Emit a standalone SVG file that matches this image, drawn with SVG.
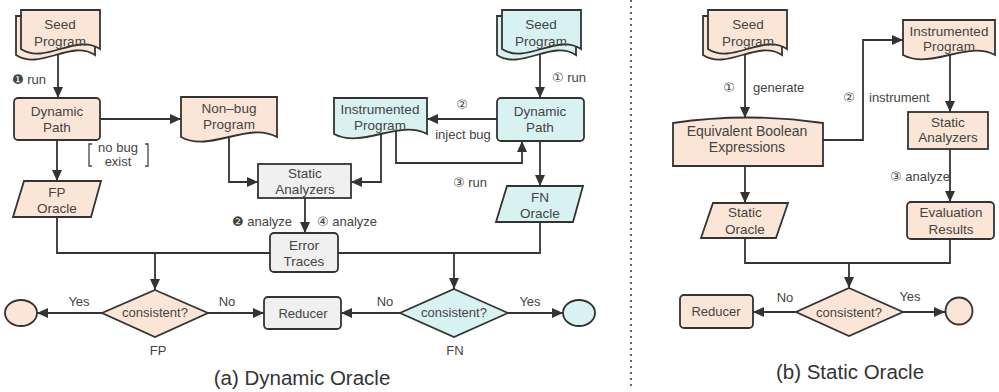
<svg xmlns="http://www.w3.org/2000/svg" width="999" height="392" viewBox="0 0 999 392">
<style>
.n{stroke:#333;stroke-width:1.8}
.p{fill:#FBE5D6}
.c{fill:#D8F2F2}
.g{fill:#F0F0F0}
.e{fill:none;stroke:#333;stroke-width:1.8}
.a{marker-end:url(#ah)}
text{font-family:"Liberation Sans",Arial,"DejaVu Sans","Noto Sans CJK SC",sans-serif;fill:#444;font-size:13.5px;text-anchor:middle}
.l{font-size:13px}
.s{text-anchor:start}
.t{font-size:20.5px;fill:#333}
</style>
<defs>
<marker id="ah" markerUnits="userSpaceOnUse" markerWidth="12" markerHeight="10" refX="11" refY="5" orient="auto">
<path d="M0,0 L11,5 L0,10 Z" fill="#333"/>
</marker>
</defs>

<g id="connectors">
<path class="e a" d="M58,55 V98"/>
<path class="e a" d="M100,119 H181"/>
<path class="e a" d="M57,140 V181"/>
<path class="e" d="M57,217 V253 H270"/>
<path class="e a" d="M155,253 V290"/>
<path class="e a" d="M102,313 H37"/>
<path class="e a" d="M208,313 H264"/>
<path class="e a" d="M229,137 V182 H258"/>
<path class="e a" d="M381,134 V182 H351"/>
<path class="e a" d="M396,131 V163 H522 V141"/>
<path class="e a" d="M305,198 V233"/>
<path class="e a" d="M497,119 H427"/>
<path class="e a" d="M540,55 V98"/>
<path class="e a" d="M540,141 V186"/>
<path class="e" d="M540,222 V253 H338"/>
<path class="e a" d="M454,253 V289"/>
<path class="e a" d="M400,313 H341"/>
<path class="e a" d="M508,313 H563"/>

<path class="e a" d="M745,55 V118"/>
<path class="e a" d="M823,140 H863 V40 H903"/>
<path class="e a" d="M950,55 V112"/>
<path class="e a" d="M950,149 V202"/>
<path class="e a" d="M745,166 V203"/>
<path class="e" d="M745,238 V263 H950 V239"/>
<path class="e a" d="M849,263 V288"/>
<path class="e a" d="M796,312 H753"/>
<path class="e a" d="M903,312 H945"/>
</g>

<g id="divider">
<line x1="631" y1="0" x2="631" y2="390" stroke="#666" stroke-width="2" stroke-dasharray="2 4"/>
</g>

<g id="labels">
<text class="l s" x="12" y="84">❶ run</text>
<text class="l s" x="232" y="226">❷ analyze</text>
<text class="l s" x="317" y="226">④ analyze</text>
<text class="l" x="462" y="109">②</text>
<text class="l" x="463" y="139">inject bug</text>
<text class="l s" x="552" y="82">① run</text>
<text class="l s" x="453" y="187">③ run</text>
<text class="l" x="79" y="306">Yes</text>
<text class="l" x="227" y="306">No</text>
<text class="l" x="158" y="355">FP</text>
<text class="l" x="385" y="306">No</text>
<text class="l" x="530" y="306">Yes</text>
<text class="l" x="455" y="355">FN</text>
<text class="l" x="729" y="92">①</text>
<text class="l s" x="753" y="92">generate</text>
<text class="l" x="849" y="102">②</text>
<text class="l s" x="869" y="102">instrument</text>
<text class="l s" x="890" y="181">③ analyze</text>
<text class="l" x="785" y="302">No</text>
<text class="l" x="910" y="301">Yes</text>
</g>

<g id="note-no-bug">
<path d="M92,144 H89 V166 H92 M145,144 H148 V166 H145" fill="none" stroke="#444" stroke-width="1.3"/>
<text class="l" x="118" y="152">no bug</text>
<text class="l" x="118" y="166">exist</text>
</g>

<g id="seed-a">
<path class="n p" d="M16,16 H95 V55 C71,39 40,71 16,55 Z"/>
<path class="n p" d="M21,10 H100 V49 C76,33 45,65 21,49 Z"/>
<text x="60" y="29">Seed</text>
<text x="60" y="46">Program</text>
</g>

<g id="dynamic-path-a">
<rect class="n p" x="14" y="98" width="86" height="42" rx="4"/>
<text x="57" y="116">Dynamic</text>
<text x="57" y="132">Path</text>
</g>

<g id="non-bug-program">
<path class="n p" d="M181,97 H277 V137 C248,121 210,153 181,137 Z"/>
<text x="229" y="113">Non–bug</text>
<text x="229" y="129">Program</text>
</g>

<g id="fp-oracle">
<polygon class="n p" points="24,181 101,181 91,217 13,217"/>
<text x="57" y="197">FP</text>
<text x="57" y="213">Oracle</text>
</g>

<g id="static-analyzers-a">
<rect class="n g" x="258" y="164" width="93" height="34"/>
<text x="305" y="178">Static</text>
<text x="305" y="194">Analyzers</text>
</g>

<g id="error-traces">
<rect class="n g" x="270" y="233" width="68" height="39" rx="4"/>
<text x="304" y="250">Error</text>
<text x="304" y="266">Traces</text>
</g>

<g id="fp-check">
<polygon class="n p" points="155,290 208,313 155,337 102,313"/>
<text class="l" x="155" y="317">consistent?</text>
</g>

<g id="fp-end">
<ellipse class="n p" cx="21" cy="313" rx="16" ry="13"/>
</g>

<g id="reducer-a">
<rect class="n g" x="264" y="297" width="77" height="32" rx="4"/>
<text class="l" x="303" y="318">Reducer</text>
</g>

<g id="instrumented-a">
<path class="n c" d="M334,98 H427 V134 C399,119 362,149 334,134 Z"/>
<text x="380" y="114">Instrumented</text>
<text x="380" y="130">Program</text>
</g>

<g id="seed-fn">
<path class="n c" d="M497,16 H576 V55 C552,39 521,71 497,55 Z"/>
<path class="n c" d="M502,10 H581 V49 C557,33 526,65 502,49 Z"/>
<text x="541" y="29">Seed</text>
<text x="541" y="46">Program</text>
</g>

<g id="dynamic-path-fn">
<rect class="n c" x="497" y="98" width="87" height="43" rx="4"/>
<text x="540" y="116">Dynamic</text>
<text x="540" y="132">Path</text>
</g>

<g id="fn-oracle">
<polygon class="n c" points="507,186 583,186 573,222 496,222"/>
<text x="540" y="202">FN</text>
<text x="540" y="218">Oracle</text>
</g>

<g id="fn-check">
<polygon class="n c" points="454,289 508,313 454,337 400,313"/>
<text class="l" x="454" y="317">consistent?</text>
</g>

<g id="fn-end">
<ellipse class="n c" cx="579" cy="313" rx="16" ry="13"/>
</g>

<g id="seed-b">
<path class="n p" d="M703,16 H782 V55 C758,39 727,71 703,55 Z"/>
<path class="n p" d="M708,10 H787 V49 C763,33 732,65 708,49 Z"/>
<text x="748" y="29">Seed</text>
<text x="748" y="46">Program</text>
</g>

<g id="equivalent-boolean">
<path class="n p" d="M673,123 Q748,112 823,123 V166 H673 Z"/>
<text x="747" y="136" style="font-size:14px">Equivalent Boolean</text>
<text x="747" y="152" style="font-size:14px">Expressions</text>
</g>

<g id="instrumented-b">
<path class="n p" d="M903,20 H995 V55 C967,40 931,70 903,55 Z"/>
<text x="949" y="36">Instrumented</text>
<text x="949" y="51">Program</text>
</g>

<g id="static-analyzers-b">
<rect class="n p" x="908" y="112" width="80" height="37"/>
<text x="948" y="127">Static</text>
<text x="948" y="142">Analyzers</text>
</g>

<g id="evaluation-results">
<rect class="n p" x="907" y="202" width="87" height="37" rx="4"/>
<text x="951" y="217">Evaluation</text>
<text x="951" y="234">Results</text>
</g>

<g id="static-oracle">
<polygon class="n p" points="713,203 788,203 776,238 701,238"/>
<text x="745" y="217">Static</text>
<text x="745" y="234">Oracle</text>
</g>

<g id="static-check">
<polygon class="n p" points="849,288 903,312 849,336 796,312"/>
<text class="l" x="849" y="317">consistent?</text>
</g>

<g id="reducer-b">
<rect class="n p" x="680" y="295" width="73" height="33" rx="4"/>
<text class="l" x="716" y="316">Reducer</text>
</g>

<g id="static-end">
<circle class="n p" cx="959" cy="311" r="13.5"/>
</g>

<g id="titles">
<text class="t" x="302" y="385">(a) Dynamic Oracle</text>
<text class="t" x="850" y="379">(b) Static Oracle</text>
</g>
</svg>
